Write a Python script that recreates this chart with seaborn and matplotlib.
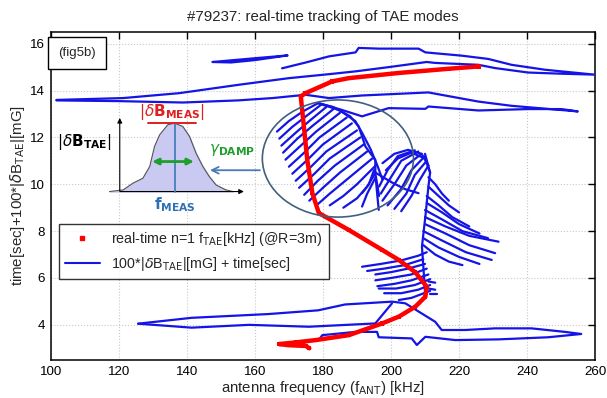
import numpy as np
import pandas as pd
import matplotlib
matplotlib.use("Agg")
import matplotlib.pyplot as plt
import seaborn as sns
from matplotlib.patches import Ellipse
from matplotlib.lines import Line2D

# ---------------- data ----------------
red_freq = [176.0, 175.0, 170.0, 167.1, 172.0, 177.9, 187.6, 197.4, 202.3, 207.1, 210.1, 210.5,
            207.1, 202.3, 197.4, 187.6, 178.8, 176.9, 175.4, 174.4, 173.5, 174.9, 182.7, 187.6,
            202.2, 216.9, 225.7]
red_time = [3.0, 3.1, 3.13, 3.18, 3.25, 3.35, 3.56, 4.06, 4.35, 4.77, 5.2, 5.63,
            6.25, 6.77, 7.2, 8.05, 8.77, 9.62, 11.04, 12.47, 13.75, 13.89, 14.39, 14.53,
            14.75, 14.93, 15.03]

loop_short_f = [147.6, 160.0, 169.6, 160.0, 153.0, 147.6]
loop_short_v = [15.22, 15.38, 15.5, 15.3, 15.2, 15.22]

loop_high_f = [101.7, 121.3, 137.8, 155.4, 170.0, 181.8, 189.6, 199.3, 210.5, 213.0, 225.7, 230.6,
               240.3, 250.1, 259.8, 245.2, 235.4, 228.6, 220.8, 210.1, 208.1, 196.4, 190.5, 189.6,
               181.8, 175.0, 168.0]
loop_high_v = [13.6, 13.68, 13.89, 14.25, 14.53, 14.7, 14.82, 15.0, 15.22, 15.18, 15.1, 14.96,
               14.77, 14.72, 14.68, 14.89, 15.1, 15.35, 15.49, 15.63, 15.79, 15.79, 15.82, 15.63,
               15.46, 15.2, 14.95]

loop_mid_f = [101.7, 120.0, 138.8, 155.0, 165.2, 174.9, 181.8, 191.5, 211.0, 225.7, 235.4, 254.9,
              250.1, 240.3, 225.7, 211.0, 210.1, 199.3, 191.5, 185.0, 178.4]
loop_mid_v = [13.58, 13.55, 13.49, 13.58, 13.68, 13.82, 13.68, 13.79, 13.92, 13.53, 13.35, 13.11,
              13.21, 13.21, 13.15, 13.32, 13.22, 13.25, 12.9, 13.2, 13.47]

loop_low_f = [125.7, 141.4, 163.9, 178.6, 186.5, 200.3, 204.2, 213.0, 214.9, 221.8, 230.6, 241.3,
              251.1, 255.9, 246.2, 231.6, 218.9, 210.1, 207.6, 206.1, 196.4, 195.9, 189.6, 179.8, 178.8]
loop_low_v = [4.05, 4.3, 4.46, 4.62, 4.87, 4.99, 4.92, 4.13, 3.78, 3.78, 3.85, 3.85,
              3.7, 3.61, 3.47, 3.38, 3.35, 3.49, 3.14, 3.42, 3.47, 3.7, 3.7, 3.56, 3.35]

loop_low2_f = [125.7, 141.4, 158.3, 175.9, 195.4, 200.3]
loop_low2_v = [4.05, 3.88, 4.0, 3.92, 4.06, 4.92]

fan_upper_f = [[166.5, 170, 174, 178.4], [167.2, 171, 175, 179.5], [167.8, 172, 176, 181],
               [168.3, 172.5, 177, 183], [169, 173.5, 178, 185], [170, 174.5, 179, 187],
               [171, 175.5, 180, 188.5], [172, 176.5, 181, 190], [173, 177.5, 182, 191],
               [174.5, 178.5, 183.5, 192], [176, 180, 185, 193], [178.5, 182, 187, 194.5],
               [182, 186, 190, 195.5], [186, 190, 193, 195.5], [191.5, 193, 195.5],
               [191.5, 193.5, 195], [196.4, 196, 195.5],
               [178.4, 183, 188, 190.5, 192.5, 195.4, 195.4, 196.5],
               [179, 185, 189.5, 191.5, 194, 196, 197.5],
               [195.4, 200, 204, 208.1]]
fan_upper_v = [[12.25, 12.7, 13.1, 13.45], [11.95, 12.45, 12.9, 13.4], [11.65, 12.2, 12.7, 13.3],
               [11.35, 11.95, 12.5, 13.2], [11.05, 11.65, 12.25, 13.05], [10.75, 11.35, 12.0, 12.85],
               [10.45, 11.05, 11.7, 12.6], [10.15, 10.75, 11.4, 12.3], [9.85, 10.45, 11.1, 12.0],
               [9.55, 10.15, 10.8, 11.7], [9.3, 9.85, 10.5, 11.4], [9.15, 9.6, 10.2, 11.1],
               [9.1, 9.5, 10.0, 10.8], [9.0, 9.4, 9.9, 10.5], [9.05, 9.6, 10.3],
               [9.62, 10.0, 10.6], [8.91, 9.5, 10.3],
               [13.47, 13.3, 12.9, 12.47, 11.61, 11.04, 10.47, 9.5],
               [13.45, 13.15, 12.7, 12.2, 11.5, 10.8, 10.2],
               [10.5, 10.1, 9.8, 9.62]]

fan_mid_f = [[197.5, 201, 205, 209, 211], [198.5, 202, 206, 210, 211.5],
             [207, 202, 199, 196.5], [208, 203, 200, 197], [209, 204.5, 201, 197.5],
             [210, 206, 203, 199], [210.5, 207, 204.5, 201], [211, 208.5, 206, 203],
             [210, 211.5, 211, 210.1, 209.1, 209.5, 210.1]]
fan_mid_v = [[10.9, 11.3, 11.47, 11.3, 10.8], [10.6, 11.1, 11.35, 11.1, 10.5],
             [11.45, 11.2, 10.6, 9.9], [11.4, 11.0, 10.3, 9.6], [11.3, 10.8, 10.0, 9.3],
             [11.2, 10.6, 9.8, 9.1], [11.0, 10.4, 9.6, 8.95], [10.8, 10.2, 9.5, 8.85],
             [11.3, 10.5, 9.9, 8.62, 7.34, 6.5, 5.2]]

fan_right_f = [[211, 213, 215, 217], [211, 214, 217, 220], [210.5, 214, 218, 223],
               [210.5, 215, 220, 226], [210, 215, 221, 228.5], [210, 216, 223, 231.6],
               [210, 216, 223, 230.6], [209.5, 215, 222, 229.6], [209.5, 214, 220, 226],
               [209.5, 213, 217, 221]]
fan_right_v = [[10.3, 10.0, 9.6, 9.3], [9.9, 9.5, 9.1, 8.8], [9.5, 9.1, 8.6, 8.2],
               [9.2, 8.8, 8.3, 7.9], [8.9, 8.5, 8.0, 7.7], [8.6, 8.2, 7.8, 7.55],
               [8.3, 7.9, 7.4, 7.06], [8.0, 7.6, 7.1, 6.77], [7.7, 7.3, 6.9, 6.6],
               [7.4, 7.0, 6.7, 6.55]]

fan_low_f = [[191.5, 197, 203, 208, 210.5], [193, 198, 204, 209.5], [195.4, 200, 205, 210],
             [195.4, 200, 206, 210.5], [196, 201, 206, 211], [196.4, 201.5, 207, 211.5],
             [198, 203, 208, 211.5], [202.3, 206, 211.5],
             [211.5, 213.5], [211, 213], [211, 213]]
fan_low_v = [[6.48, 6.6, 6.75, 6.95, 7.1], [6.3, 6.4, 6.55, 6.8], [6.15, 6.25, 6.4, 6.6],
             [5.9, 6.0, 6.15, 6.4], [5.65, 5.75, 5.9, 6.15], [5.55, 5.55, 5.7, 5.95],
             [5.35, 5.35, 5.5, 5.7], [5.06, 5.15, 5.45],
             [5.3, 5.3], [5.55, 5.5], [5.85, 5.8]]

# schematic inset (bell curve)
bell_f = [117.3, 121.3, 124.2, 127.1, 129.1, 130.5, 132.0, 134.4, 136.4, 138.8, 140.8, 142.7,
          144.7, 146.6, 148.6, 151.5, 153.5]
bell_v = [9.69, 9.76, 10.05, 10.26, 10.76, 11.61, 12.11, 12.54, 12.61, 12.47, 12.04, 11.33,
          10.76, 10.33, 9.97, 9.76, 9.69]

x_ticks = [100, 120, 140, 160, 180, 200, 220, 240, 260]
y_ticks = [4, 6, 8, 10, 12, 14, 16]

# ---------------- build table ----------------
traces = [(loop_short_f, loop_short_v), (loop_high_f, loop_high_v), (loop_mid_f, loop_mid_v),
          (loop_low_f, loop_low_v), (loop_low2_f, loop_low2_v)]
for group_f, group_v in [(fan_upper_f, fan_upper_v), (fan_mid_f, fan_mid_v),
                         (fan_right_f, fan_right_v), (fan_low_f, fan_low_v)]:
    traces += list(zip(group_f, group_v))
rows = []
for i, (fs, vs) in enumerate(traces):
    for k, (f, v) in enumerate(zip(fs, vs)):
        rows.append({"trace": i, "order": k, "f": f, "v": v})
blue_df = pd.DataFrame(rows)
red_df = pd.DataFrame({"f": red_freq, "t": red_time})

# ---------------- figure ----------------
sns.set_theme(style="white")
plt.rcParams["font.family"] = ["Liberation Sans", "DejaVu Sans"]
fig = plt.figure(figsize=(6.07, 3.98), dpi=100)
ax = fig.add_axes([0.0835, 0.0955, 0.897, 0.8241])

BLUE = "#1414e6"
sns.lineplot(data=blue_df, x="f", y="v", units="trace", estimator=None, sort=False,
             color=BLUE, lw=1.6, legend=False, ax=ax, zorder=3)
sns.lineplot(data=red_df, x="f", y="t", sort=False, estimator=None, color="red", lw=3.2,
             ax=ax, zorder=4)
sns.scatterplot(data=red_df, x="f", y="t", marker="s", s=9, color="red", edgecolor="none",
                ax=ax, zorder=5, legend=False)

# ellipse + arrow
ax.add_patch(Ellipse((184.4, 11.1), 44.4, 5.0, fill=False, edgecolor="#41607f", lw=1.2, zorder=6))
ax.annotate("", xy=(146.0, 10.6), xytext=(162.3, 10.6),
            arrowprops=dict(arrowstyle="->", color="#4a7ab5", lw=1.3), zorder=6)

# schematic
ax.fill_between(bell_f, 9.69, bell_v, color="#c9c9f2", zorder=2)
ax.plot(bell_f, bell_v, color="#555555", lw=0.8, zorder=2)
ax.annotate("", xy=(120.3, 12.95), xytext=(120.3, 9.6),
            arrowprops=dict(arrowstyle="-|>", color="black", lw=0.8, mutation_scale=7))
ax.annotate("", xy=(157.6, 9.69), xytext=(119.5, 9.69),
            arrowprops=dict(arrowstyle="-|>", color="black", lw=0.8, mutation_scale=7))
ax.plot([136.4, 136.4], [9.69, 12.61], color="#3b78b8", lw=1.2, zorder=3)
ax.plot([128.6, 142.7], [12.61, 12.61], color="#e0201e", lw=1.4, zorder=3)
ax.annotate("", xy=(129.0, 10.97), xytext=(142.9, 10.97),
            arrowprops=dict(arrowstyle="<|-|>", color="#1e9e2a", lw=2.0, mutation_scale=9), zorder=4)
ax.text(135.5, 13.1, r"$|\delta\mathbf{B}_{\mathbf{MEAS}}|$", color="#e0201e", fontsize=11,
        ha="center", va="center", zorder=6)
ax.text(146.5, 11.45, r"$\gamma_{\mathbf{DAMP}}$", color="#1e9e2a", fontsize=11,
        ha="left", va="center", zorder=6)
ax.text(136.6, 9.15, r"$\mathbf{f_{MEAS}}$", color="#2e6fb5", fontsize=11,
        ha="center", va="center", zorder=6)
ax.text(110.0, 11.8, r"$|\delta\mathbf{B}_{\mathbf{TAE}}|$", color="black", fontsize=11,
        ha="center", va="center", zorder=6)

# (fig5b) label
ax.text(102.2, 15.6, "(fig5b)", fontsize=9.5, ha="left", va="center",
        bbox=dict(boxstyle="square,pad=0.75", fc="white", ec="black", lw=1.0), zorder=7)

# axes styling
ax.set_xlim(100, 260)
ax.set_ylim(2.5, 16.5)
ax.set_xticks(x_ticks)
ax.set_yticks(y_ticks)
ax.grid(True, color="#c8c8c8", linestyle=":", lw=0.8)
ax.tick_params(direction="in", length=5, width=1, top=True, right=True,
               labelsize=9.6, colors="black", pad=4)
for s in ax.spines.values():
    s.set_color("black")
    s.set_linewidth(1.1)
ax.set_xlabel(r"antenna frequency (f$_{\rm ANT}$) [kHz]", fontsize=10.8, labelpad=1)
ax.set_ylabel(r"time[sec]+100*|$\delta$B$_{\rm TAE}$|[mG]", fontsize=10.8, labelpad=2)
ax.set_title("#79237: real-time tracking of TAE modes", fontsize=10.8, pad=8)

handles = [Line2D([], [], color="red", marker="s", markersize=2.5, linestyle="none"),
           Line2D([], [], color=BLUE, lw=1.5)]
labels = [r"real-time n=1 f$_{\rm TAE}$[kHz] (@R=3m)", r"100*|$\delta$B$_{\rm TAE}$|[mG] + time[sec]"]
leg = ax.legend(handles, labels, loc="upper left", bbox_to_anchor=(0.015, 0.415),
                fontsize=10.3, frameon=True, fancybox=False, edgecolor="black",
                handlelength=2.4, borderpad=0.45, labelspacing=0.45, borderaxespad=0)
leg.get_frame().set_linewidth(1.0)
leg.set_zorder(8)

fig.savefig("out.png", dpi=100)
